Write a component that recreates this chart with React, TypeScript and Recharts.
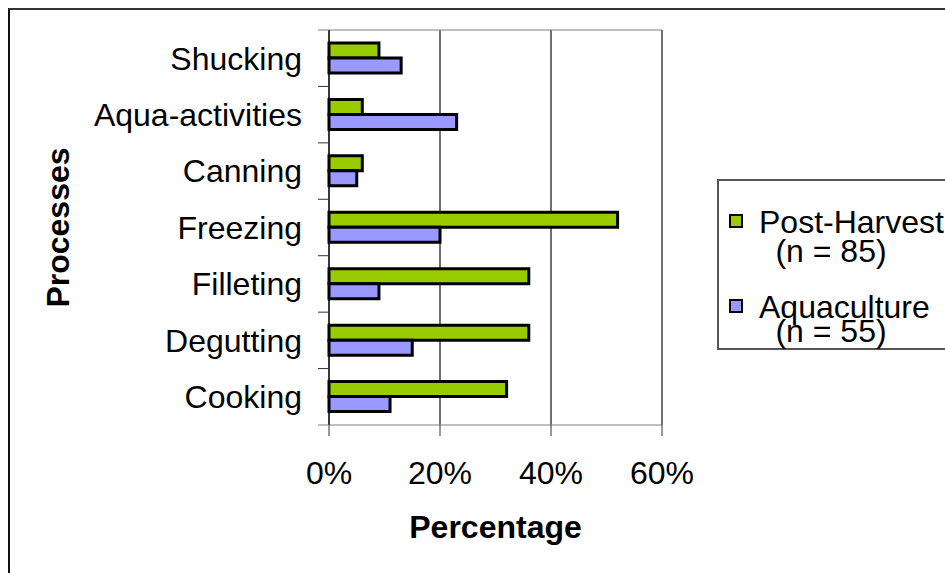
import React from 'react';
import { BarChart, Bar, XAxis, YAxis, CartesianGrid, Legend } from 'recharts';

// Share of respondents using each process, by sector (%)
const processes = [
  'Shucking',
  'Aqua-activities',
  'Canning',
  'Freezing',
  'Filleting',
  'Degutting',
  'Cooking',
];
const postHarvest = [9, 6, 6, 52, 36, 36, 32];
const aquaculture = [13, 23, 5, 20, 9, 15, 11];

const seriesNames = ['Post-Harvest', 'Aquaculture'];
const sampleSizes = [85, 55];
const percentTicks = [0, 20, 40, 60];

const GREEN = '#99CC00';
const PURPLE = '#9999FF';
const FONT = '"Liberation Sans", Arial, sans-serif';
const FONT_SIZE = 32;
const LABEL_GAP = 27; // label anchor to axis line
const TICK_LEN = 11;

const data = processes.map((process, i) => ({
  process,
  postHarvest: postHarvest[i],
  aquaculture: aquaculture[i],
}));

// Category label plus the tick marks on the band edges (Excel style)
function CategoryTick(props: any) {
  const { x, y, payload, index, visibleTicksCount } = props;
  const half = payload.offset || 0;
  const axisX = x + LABEL_GAP;
  const isLast = index === visibleTicksCount - 1;
  return (
    <g>
      <line x1={axisX - TICK_LEN} x2={axisX} y1={y - half} y2={y - half} stroke={index === 0 ? '#808080' : '#333'} />
      {isLast && <line x1={axisX - TICK_LEN} x2={axisX} y1={y + half} y2={y + half} stroke="#808080" />}
      <text x={x} y={y} dy="0.355em" textAnchor="end" fill="#000" fontSize={FONT_SIZE} fontFamily={FONT}>
        {payload.value}
      </text>
    </g>
  );
}

// Boxed legend with the sample size under each series name
function renderLegend() {
  const colors = [GREEN, PURPLE];
  return (
    <svg width={240} height={172} style={{ display: 'block' }}>
      <rect x={1} y={1} width={300} height={169} fill="#fff" stroke="#555" strokeWidth={2} />
      {seriesNames.map((name, i) => {
        const top = i === 0 ? 36 : 121;
        return (
          <g key={name}>
            <rect x={13} y={top} width={12} height={12} fill={colors[i]} stroke="#000" strokeWidth={2} />
            <text x={42} y={top + 18} fontSize={FONT_SIZE} fontFamily={FONT} fill="#000">
              {name}
            </text>
            <text x={114} y={i === 0 ? 83 : 163} fontSize={FONT_SIZE} fontFamily={FONT} fill="#000" textAnchor="middle">
              {`(n = ${sampleSizes[i]})`}
            </text>
          </g>
        );
      })}
    </svg>
  );
}

export default function App() {
  return (
    <div
      style={{
        position: 'absolute',
        left: 0,
        top: 0,
        width: 945,
        height: 573,
        overflow: 'hidden',
        background: '#fff',
        fontFamily: FONT,
      }}
    >
      {/* outer frame */}
      <div
        style={{
          position: 'absolute',
          left: 8,
          top: 8,
          width: 1000,
          height: 1000,
          borderLeft: '2px solid #111',
          borderTop: '2px solid #333',
        }}
      />
      <div style={{ position: 'absolute', left: 0, top: 0 }}>
        <BarChart
          width={945}
          height={573}
          data={data}
          layout="vertical"
          margin={{ top: 29, right: 283, bottom: 23, left: 0 }}
          barGap={0}
        >
          <CartesianGrid horizontal={false} stroke="#222" strokeWidth={1.3} />
          <XAxis
            type="number"
            domain={[0, 60]}
            ticks={percentTicks}
            tickFormatter={(v) => `${v}%`}
            height={125}
            tickSize={11}
            tickMargin={25}
            stroke="#808080"
            tickLine={{ stroke: '#333' }}
            tick={{ fill: '#000', fontSize: FONT_SIZE, fontFamily: FONT }}
            label={{
              value: 'Percentage',
              position: 'insideBottom',
              offset: 12,
              fill: '#000',
              fontSize: FONT_SIZE,
              fontWeight: 'bold',
              fontFamily: FONT,
            }}
          />
          {/* plain rule along the top of the plot */}
          <XAxis
            xAxisId="top"
            orientation="top"
            type="number"
            domain={[0, 60]}
            height={1}
            tick={false}
            tickLine={false}
            axisLine={{ stroke: '#808080' }}
          />
          <YAxis
            type="category"
            dataKey="process"
            width={329}
            tickSize={0}
            tickMargin={LABEL_GAP}
            axisLine={{ stroke: '#000' }}
            tickLine={false}
            tick={<CategoryTick />}
            interval={0}
            label={{
              value: 'Processes',
              position: 'insideLeft',
              offset: 58,
              angle: -90,
              fill: '#000',
              fontSize: FONT_SIZE,
              fontWeight: 'bold',
              fontFamily: FONT,
              style: { textAnchor: 'middle' },
            }}
          />
          <Bar
            dataKey="postHarvest"
            name={seriesNames[0]}
            fill={GREEN}
            stroke="#000"
            strokeWidth={3}
            barSize={15}
            isAnimationActive={false}
          />
          <Bar
            dataKey="aquaculture"
            name={seriesNames[1]}
            fill={PURPLE}
            stroke="#000"
            strokeWidth={3}
            barSize={15}
            isAnimationActive={false}
          />
          <Legend
            layout="horizontal"
            verticalAlign="middle"
            align="center"
            content={renderLegend}
            wrapperStyle={{ left: 717, top: 179, width: 240, height: 172 }}
          />
        </BarChart>
      </div>
    </div>
  );
}
